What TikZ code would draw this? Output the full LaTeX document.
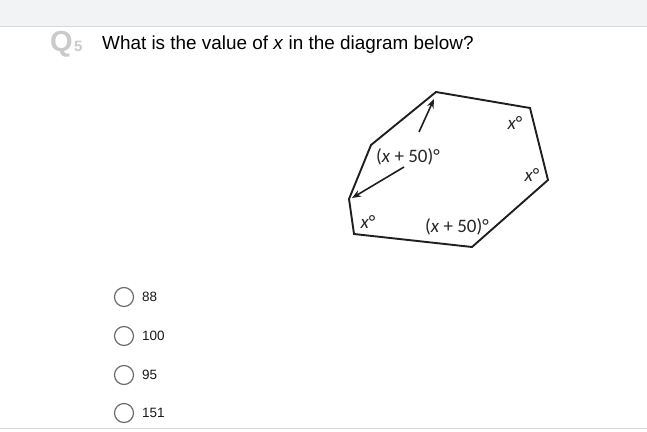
\documentclass[tikz,border=0pt]{standalone}
\usepackage{fontspec}
\setmainfont{Liberation Sans}
\newfontfamily\labelfont{Carlito}
\usetikzlibrary{arrows.meta}
\definecolor{topbg}{HTML}{F2F3F5}
\definecolor{rulegray}{HTML}{D6D7D9}
\definecolor{qgray}{HTML}{C9CACC}
\definecolor{radiogray}{HTML}{6E6E6E}
\tikzset{
  poly/.style={draw=black!88, line width=1.9pt, line join=miter},
  pointer/.style={draw=black!88, line width=1.6pt, -{Stealth[length=9pt,width=7pt]}},
  anglelabel/.style={font=\labelfont\fontsize{19}{19}\selectfont, inner sep=0pt, text=black!85},
  radio/.style={circle, draw=radiogray, line width=1.2pt, minimum size=19pt, inner sep=0pt},
  choice/.style={font=\fontsize{13.5}{13.5}\selectfont, anchor=west, inner sep=0pt, text=black!90},
}
\begin{document}
\begin{tikzpicture}[x=1pt,y=-1pt]
\useasboundingbox (0,0) rectangle (647,431);
\fill[white] (0,0) rectangle (647,431);
\fill[topbg] (0,0) rectangle (647,26);
\draw[rulegray, line width=1pt] (0,26) -- (647,26);
\draw[rulegray, line width=0.8pt] (0,428) -- (647,428);
% heading
\node[anchor=base west, inner sep=0pt, text=qgray, font=\bfseries\fontsize{29}{29}\selectfont] (q) at (50,51) {Q};
\node[anchor=base west, inner sep=0pt, text=qgray, font=\bfseries\fontsize{15}{15}\selectfont] (qn) at ([xshift=1pt]q.base east) {5};
\node[anchor=base west, inner sep=0pt, font=\fontsize{18.9}{18.9}\selectfont] (question) at (102,49) {What is the value of \textit{x} in the diagram below?};
% polygon
\coordinate (T) at (436,92);
\coordinate (TR) at (530,108);
\coordinate (R) at (548,180);
\coordinate (B) at (472,247);
\coordinate (BL) at (354,234);
\coordinate (L) at (349,199);
\coordinate (UL) at (371,145);
\draw[poly] (T) -- (TR) -- (R) -- (B) -- (BL) -- (L) -- (UL) -- cycle;
% labels
\node[anchor=base, anglelabel] (a1) at (408,162) {(\textit{x} + 50)°};
\node[anchor=base, anglelabel] (a2) at (515,129) {\textit{x}°};
\node[anchor=base, anglelabel] (a3) at (532,181) {\textit{x}°};
\node[anchor=base, anglelabel] (a4) at (368,228) {\textit{x}°};
\node[anchor=base, anglelabel] (a5) at (457,232) {(\textit{x} + 50)°};
\coordinate (tip1) at (434,99);
\coordinate (tail1) at (419,132);
\coordinate (tip2) at (352,198);
\coordinate (tail2) at (404,167);
\draw[pointer] (tail1) -- (tip1);
\draw[pointer] (tail2) -- (tip2);
% choices
\node[radio] (r1) at (124,297) {};
\node[radio] (r2) at (124,336) {};
\node[radio] (r3) at (124,375) {};
\node[radio] (r4) at (124,413) {};
\node[choice] (c1) at (142,297) {88};
\node[choice] (c2) at (142,336) {100};
\node[choice] (c3) at (142,375) {95};
\node[choice] (c4) at (142,413) {151};
\end{tikzpicture}
\end{document}
